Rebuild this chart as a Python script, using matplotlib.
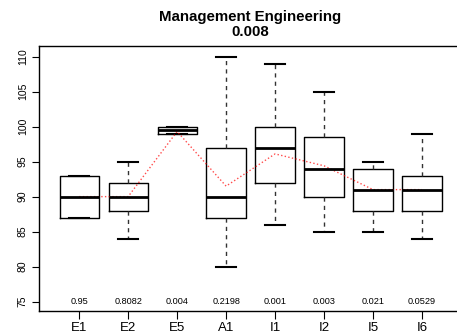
import matplotlib
matplotlib.use('Agg')
import matplotlib.pyplot as plt

plt.rcParams['font.family'] = ['Liberation Sans', 'DejaVu Sans']

# box statistics
groups = ['E1', 'E2', 'E5', 'A1', 'I1', 'I2', 'I5', 'I6']
whislo = [87, 84, 99, 80, 86, 85, 85, 84]
q1 = [87, 88, 99, 87, 92, 90, 88, 88]
med = [90, 90, 99.5, 90, 97, 94, 91, 91]
q3 = [93, 92, 100, 97, 100, 98.5, 94, 93]
whishi = [93, 95, 100, 110, 109, 105, 95, 99]
means = [90, 90, 99.3, 91.5, 96.1, 94.4, 91, 91]
pvals = ['0.95', '0.8082', '0.004', '0.2198', '0.001', '0.003', '0.021', '0.0529']
title = 'Management Engineering\n0.008'

stats = []
for i, g in enumerate(groups):
    stats.append(dict(label=g, whislo=whislo[i], q1=q1[i], med=med[i],
                      q3=q3[i], whishi=whishi[i], fliers=[]))

fig = plt.figure(figsize=(4.57, 3.35), dpi=100)
ax = fig.add_axes([0.0853, 0.0716, 0.926, 0.791])

pos = list(range(1, len(groups) + 1))
ax.bxp(stats, positions=pos, widths=0.8, showfliers=False,
       boxprops=dict(color='black', linewidth=1.0),
       medianprops=dict(color='black', linewidth=2.0),
       whiskerprops=dict(color='#333333', linewidth=1.0, linestyle=(0, (3, 3))),
       capprops=dict(color='black', linewidth=1.5),
       capwidths=0.4)

ax.plot(pos, means, color='red', linestyle=':', linewidth=1.0, alpha=0.7)

for x, p in zip(pos, pvals):
    ax.text(x, 75, p, ha='center', va='center', fontsize=6.6)

ax.set_xlim(0.18, 8.82)
ax.set_ylim(73.67, 111.5)
ax.set_yticks([75, 80, 85, 90, 95, 100, 105, 110])
ax.set_yticklabels(['75', '80', '85', '90', '95', '100', '105', '110'],
                   rotation=90, va='center', fontsize=7.5)
ax.set_xticks(pos)
ax.set_xticklabels(groups, fontsize=9.5)
ax.tick_params(axis='y', length=5, pad=3)
ax.tick_params(axis='x', length=6, pad=2)
for s in ax.spines.values():
    s.set_linewidth(1.0)
ax.spines['right'].set_visible(False)

fig.text(0.547, 0.97, title, ha='center', va='top', fontsize=10.8,
         fontweight='bold', linespacing=1.1)

fig.savefig('out.png', dpi=100)
